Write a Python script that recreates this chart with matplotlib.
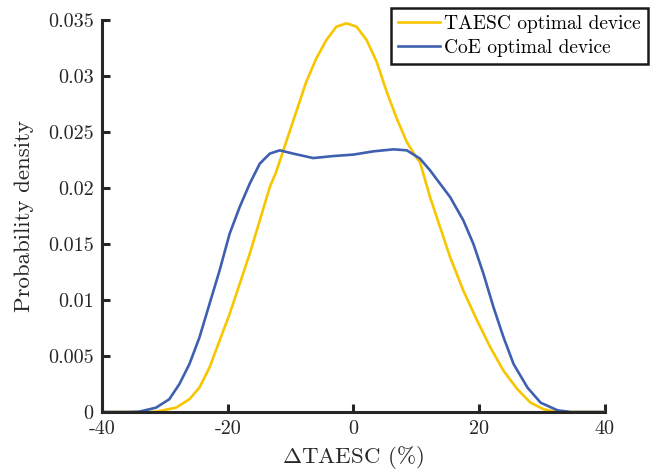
import matplotlib
matplotlib.use("Agg")
import matplotlib.pyplot as plt

plt.rcParams['font.family'] = 'cmr10'
plt.rcParams['mathtext.fontset'] = 'cm'
plt.rcParams['axes.unicode_minus'] = False

# kernel density estimates of the change in TAESC
x_taesc = [-40, -34.0, -31.4, -28.2, -26.1, -24.5, -22.9, -21.3, -19.7, -18.1,
           -16.5, -14.9, -13.3, -12.3, -10.7, -9.1, -7.5, -5.9, -4.3, -2.7,
           -1.1, 0.5, 2.1, 3.7, 5.3, 6.9, 8.5, 10.1, 10.6, 12.2, 13.8, 15.4,
           17.5, 19.7, 21.8, 23.9, 26.1, 28.2, 30.3, 32.5, 40]
y_taesc = [0, 0, 0.00003, 0.00039, 0.00114, 0.00218, 0.00397, 0.00636, 0.00875,
           0.01143, 0.01412, 0.01710, 0.02008, 0.02142, 0.02411, 0.02679,
           0.02948, 0.03157, 0.03321, 0.03440, 0.0347, 0.0344, 0.03321,
           0.03127, 0.02858, 0.0262, 0.0241, 0.02265, 0.02230, 0.01918, 0.0165,
           0.01381, 0.01083, 0.00815, 0.00576, 0.00367, 0.00203, 0.00083,
           0.00024, 0, 0]

x_coe = [-40, -36.0, -34.1, -31.4, -29.3, -27.7, -26.1, -24.5, -22.9, -21.3,
         -19.7, -18.1, -16.5, -14.9, -13.3, -11.7, -9.6, -6.4, -3.2, 0.0, 3.2,
         6.4, 8.5, 10.6, 12.2, 15.4, 17.5, 19.1, 20.7, 22.3, 23.9, 25.5, 27.7,
         29.8, 32.5, 34.6, 40]
y_coe = [0, 0, 0.00003, 0.00039, 0.00114, 0.00248, 0.00427, 0.00665, 0.00964,
         0.01262, 0.01591, 0.01829, 0.02038, 0.02217, 0.02307, 0.02336,
         0.02307, 0.02267, 0.02285, 0.02298, 0.02327, 0.02345, 0.02336,
         0.02262, 0.02157, 0.01918, 0.0171, 0.0150, 0.01233, 0.00934, 0.00665,
         0.00427, 0.00218, 0.00083, 0.00015, 0, 0]

xticks = [-40, -20, 0, 20, 40]
xtick_labels = ['-40', '-20', '0', '20', '40']
yticks = [0, 0.005, 0.01, 0.015, 0.02, 0.025, 0.03, 0.035]
ytick_labels = ['0', '0.005', '0.01', '0.015', '0.02', '0.025', '0.03', '0.035']

fig = plt.figure(figsize=(6.51, 4.75), dpi=100)
ax = fig.add_axes([0.1567, 0.1326, 0.7723, 0.8254])

ax.plot(x_taesc, y_taesc, color='#F7C600', lw=1.9, label='TAESC optimal device')
ax.plot(x_coe, y_coe, color='#3F5FB0', lw=1.9, label='CoE optimal device')

ax.set_xlim(-40, 40)
ax.set_ylim(0, 0.035)
ax.set_xticks(xticks)
ax.set_xticklabels(xtick_labels)
ax.set_yticks(yticks)
ax.set_yticklabels(ytick_labels)

for side in ['top', 'right']:
    ax.spines[side].set_visible(False)
for side in ['left', 'bottom']:
    ax.spines[side].set_linewidth(2.2)
    ax.spines[side].set_color('#262626')
ax.tick_params(direction='in', length=6, width=2.2, color='#262626',
               labelsize=14.5, labelcolor='#262626', pad=6)

ax.set_xlabel(r'$\Delta$TAESC (%)', fontsize=16.5, color='#262626', labelpad=4)
ax.set_ylabel('Probability density', fontsize=16.5, color='#262626', labelpad=10)

leg = ax.legend(loc='upper right', bbox_to_anchor=(0.995, 0.983),
                bbox_transform=fig.transFigure, borderaxespad=0,
                fancybox=False, fontsize=14, handlelength=2.2,
                handletextpad=0.2, borderpad=0.35, labelspacing=0.3,
                framealpha=1)
leg.get_frame().set_edgecolor('#1a1a1a')
leg.get_frame().set_linewidth(1.8)

fig.savefig('out.png', dpi=100)
